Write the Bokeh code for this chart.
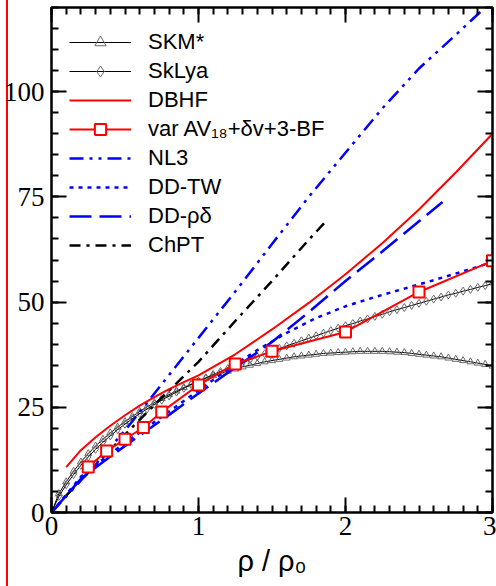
from bokeh.plotting import figure
from bokeh.models import (Range1d, FixedTicker, LinearAxis, Legend, LegendItem,
                          InlineStyleSheet, CustomLabelingPolicy)
from bokeh.embed import file_html
from bokeh.resources import INLINE

# ---------------- data ----------------
x_major_ticks = [0, 1, 2, 3]
y_major_ticks = [0, 25, 50, 75, 100]

skm_x = [0.0, 0.05, 0.1, 0.15, 0.2, 0.25, 0.3, 0.35, 0.4, 0.45, 0.5, 0.55, 0.6, 0.65, 0.7, 0.75,
         0.8, 0.85, 0.9, 0.95, 1.0, 1.05, 1.1, 1.15, 1.2, 1.25, 1.3, 1.35, 1.4, 1.45, 1.5, 1.55,
         1.6, 1.65, 1.7, 1.75, 1.8, 1.85, 1.9, 1.95, 2.0, 2.05, 2.1, 2.15, 2.2, 2.25, 2.3, 2.35,
         2.4, 2.45, 2.5, 2.55, 2.6, 2.65, 2.7, 2.75, 2.8, 2.85, 2.9, 2.95, 3.0]
skm_y = [0.0, 4.5, 7.3, 9.8, 12.0, 14.0, 15.8, 17.4, 18.9, 20.3, 21.6, 22.8, 24.0, 25.1, 26.1, 27.1,
         28.0, 28.9, 29.7, 30.5, 31.2, 31.9, 32.5, 33.1, 33.6, 34.1, 34.6, 35.0, 35.4, 35.8, 36.1, 36.4,
         36.7, 37.0, 37.2, 37.4, 37.6, 37.8, 37.9, 38.0, 38.1, 38.2, 38.3, 38.3, 38.3, 38.3, 38.2, 38.1,
         38.0, 37.8, 37.6, 37.4, 37.2, 37.0, 36.7, 36.4, 36.1, 35.8, 35.5, 35.2, 34.8]

sklya_x = skm_x
sklya_y = [0.0, 3.8, 6.6, 9.0, 11.2, 13.2, 15.0, 16.7, 18.2, 19.7, 21.0, 22.3, 23.5, 24.6, 25.7, 26.7,
           27.7, 28.6, 29.5, 30.4, 31.2, 32.0, 32.8, 33.5, 34.2, 34.9, 35.6, 36.3, 37.0, 37.7, 38.3, 39.0,
           39.6, 40.2, 40.8, 41.4, 42.0, 42.6, 43.2, 43.8, 44.4, 44.9, 45.5, 46.0, 46.6, 47.1, 47.7, 48.2,
           48.7, 49.2, 49.7, 50.2, 50.7, 51.2, 51.7, 52.1, 52.6, 53.0, 53.5, 53.9, 54.4]

dbhf_x = [0.1, 0.2, 0.3, 0.4, 0.5, 0.6, 0.7, 0.8, 0.9, 1.0, 1.25, 1.5, 1.75, 2.0, 2.25, 2.5, 2.75, 3.0]
dbhf_y = [10.8, 14.8, 17.9, 20.6, 23.1, 25.4, 27.4, 29.3, 31.0, 32.6, 37.6, 43.5, 49.8, 56.6, 64.0, 72.0, 80.8, 90.0]

av18_x = [0.25, 0.375, 0.5, 0.625, 0.75, 1.0, 1.25, 1.5, 2.0, 2.5, 3.0]
av18_y = [10.8, 14.6, 17.4, 20.2, 23.9, 30.3, 35.3, 38.3, 42.9, 52.4, 59.8]

nl3_x = [0.0, 0.25, 0.5, 0.75, 1.0, 1.25, 1.5, 1.75, 2.0, 2.25, 2.5, 2.75, 2.95]
nl3_y = [0.0, 9.5, 19.5, 30.5, 41.5, 52.5, 63.8, 75.0, 85.5, 96.0, 105.5, 113.5, 120.0]

ddtw_x = [0.0, 0.2, 0.4, 0.6, 0.8, 1.0, 1.2, 1.4, 1.6, 1.8, 2.0, 2.2, 2.4, 2.6, 2.8, 3.0]
ddtw_y = [0.0, 8.5, 14.0, 19.0, 24.0, 29.0, 34.0, 38.6, 42.7, 46.2, 49.0, 51.2, 53.2, 55.2, 57.3, 59.5]

ddrd_x = [0.0, 0.2, 0.4, 0.6, 0.8, 1.0, 1.2, 1.5, 1.75, 2.0, 2.25, 2.5, 2.66]
ddrd_y = [0.0, 8.0, 13.3, 18.3, 23.2, 28.3, 33.2, 40.5, 47.6, 55.0, 62.0, 69.2, 73.8]

chpt_x = [0.1, 0.25, 0.5, 0.75, 1.0, 1.25, 1.5, 1.75, 1.87]
chpt_y = [4.0, 9.5, 18.5, 27.3, 35.8, 45.5, 55.0, 64.8, 69.3]

labels = ["SKM*", "SkLya", "DBHF", "var AV\u2081\u2088+\u03b4v+3-BF", "NL3", "DD-TW", "DD-\u03c1\u03b4", "ChPT"]

# ---------------- figure ----------------
p = figure(width=496, height=586, x_range=Range1d(0, 3), y_range=Range1d(0, 120),
           output_backend="svg", toolbar_location=None,
           min_border_left=50, min_border_right=4, min_border_top=7, min_border_bottom=74)
p.grid.visible = False
p.outline_line_color = "black"
p.outline_line_width = 2
p.background_fill_color = "white"
p.border_fill_alpha = 0

x_minor = [i / 10 for i in range(0, 31)]
y_minor = [5 * i for i in range(0, 25)]
xt = FixedTicker(ticks=x_major_ticks, minor_ticks=x_minor)
yt = FixedTicker(ticks=y_major_ticks, minor_ticks=y_minor)


def style_axis(ax, labels_on):
    ax.axis_line_width = 2
    ax.axis_line_color = "black"
    ax.major_tick_line_width = 2
    ax.minor_tick_line_width = 2
    ax.major_tick_in = 15
    ax.major_tick_out = 0
    ax.minor_tick_in = 7
    ax.minor_tick_out = 0
    if labels_on:
        ax.major_label_text_font = "Liberation Serif"
        ax.major_label_text_font_size = "27px"
        ax.major_label_text_color = "black"
    else:
        ax.major_label_policy = CustomLabelingPolicy(code="for (const i of indices) indices.unset(i)")
        ax.major_label_text_font_size = "0px"
        ax.major_label_standoff = 0


p.xaxis.ticker = xt
p.yaxis.ticker = yt
style_axis(p.xaxis[0], True)
style_axis(p.yaxis[0], True)
p.xaxis.major_label_standoff = 4
p.yaxis.major_label_standoff = 7
p.xaxis.axis_label = "\u03c1 / \u03c1\u2080"
p.xaxis.axis_label_text_font = "Liberation Sans"
p.xaxis.axis_label_text_font_size = "29px"
p.xaxis.axis_label_text_font_style = "normal"
p.xaxis.axis_label_text_color = "black"
p.xaxis.axis_label_standoff = 7

ax_top = LinearAxis(ticker=xt)
style_axis(ax_top, False)
p.add_layout(ax_top, "above")
ax_right = LinearAxis(ticker=yt)
style_axis(ax_right, False)
p.add_layout(ax_right, "right")

gray = "#6a6a6a"
l_skm = p.line(skm_x, skm_y, line_color="black", line_width=1)
s_skm = p.scatter(skm_x, skm_y, marker="triangle", size=7, line_color=gray, fill_color=None, line_width=1)
l_sky = p.line(sklya_x, sklya_y, line_color="black", line_width=1)
s_sky = p.scatter(sklya_x, sklya_y, marker="diamond", size=8, line_color=gray, fill_color=None, line_width=1)

l_chpt = p.line(chpt_x, chpt_y, line_color="black", line_width=2.5, line_dash="11 6 3 6")
l_nl3 = p.line(nl3_x, nl3_y, line_color="#0000ff", line_width=2.5, line_dash="14 6 3 6 3 6")
l_ddrd = p.line(ddrd_x, ddrd_y, line_color="#0000ff", line_width=2.5, line_dash="22 8")
l_ddtw = p.line(ddtw_x, ddtw_y, line_color="#0000ff", line_width=2.5, line_dash="4 5")
l_dbhf = p.line(dbhf_x, dbhf_y, line_color="#ff0000", line_width=2)
l_av = p.line(av18_x, av18_y, line_color="#ff0000", line_width=2)
s_av = p.scatter(av18_x, av18_y, marker="square", size=11, line_color="#ff0000", fill_color="white", line_width=2)

legend = Legend(items=[
    LegendItem(label=labels[0], renderers=[l_skm, s_skm]),
    LegendItem(label=labels[1], renderers=[l_sky, s_sky]),
    LegendItem(label=labels[2], renderers=[l_dbhf]),
    LegendItem(label=labels[3], renderers=[l_av, s_av]),
    LegendItem(label=labels[4], renderers=[l_nl3]),
    LegendItem(label=labels[5], renderers=[l_ddtw]),
    LegendItem(label=labels[6], renderers=[l_ddrd]),
    LegendItem(label=labels[7], renderers=[l_chpt]),
], location=(18, 253))
legend.label_text_font = "Liberation Sans"
legend.label_text_font_size = "22px"
legend.label_text_color = "black"
legend.glyph_width = 62
legend.glyph_height = 28
legend.label_height = 28
legend.spacing = 1
legend.padding = 0
legend.margin = 0
legend.label_standoff = 17
legend.border_line_color = None
legend.background_fill_alpha = 0
p.add_layout(legend)

p.stylesheets = [InlineStyleSheet(css=":host { background: linear-gradient(to right, #ffffff 0px, #ffffff 6px, #ff0000 6px, #ff0000 8px, #ffffff 8px, #ffffff 100%); }")]

open("out.html", "w").write(file_html(p, INLINE))
